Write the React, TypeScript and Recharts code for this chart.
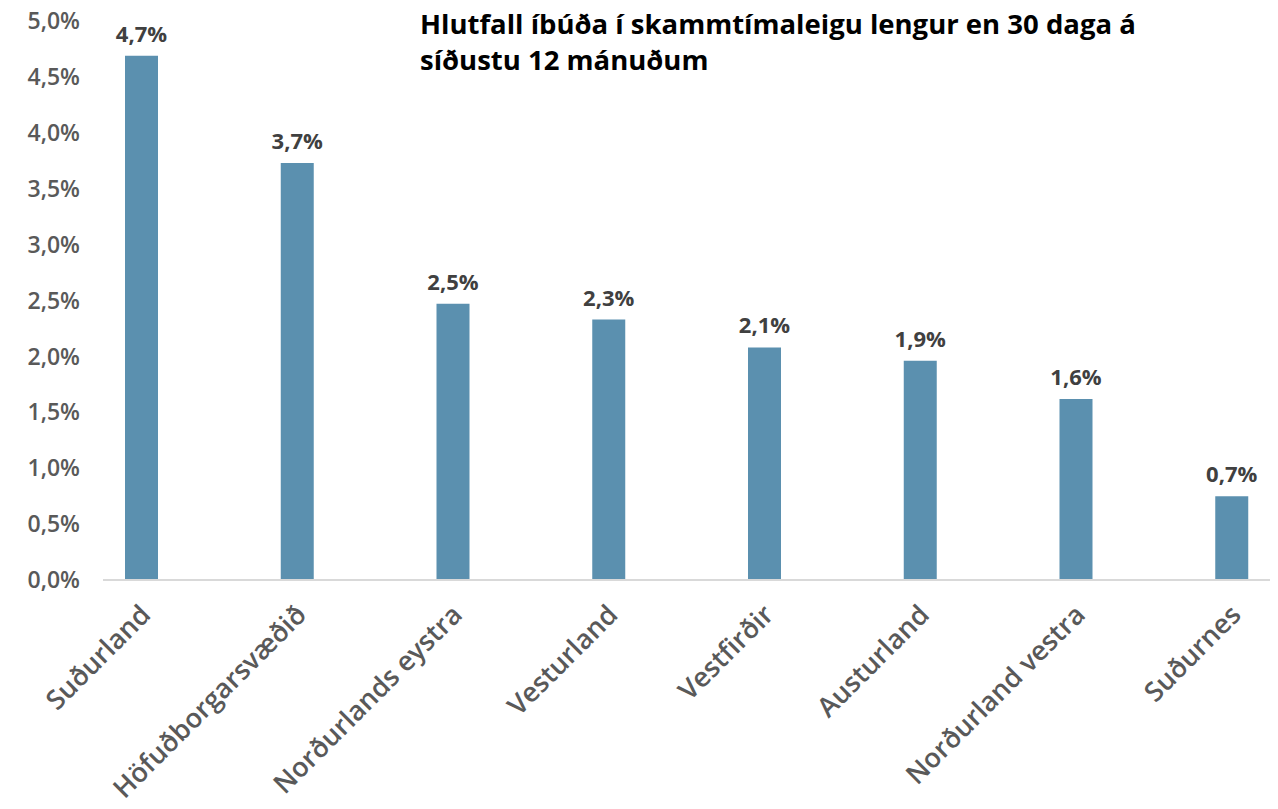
import React from "react";
import { BarChart, Bar, XAxis, YAxis, LabelList } from "recharts";

const categories = [
  "Suðurland",
  "Höfuðborgarsvæðið",
  "Norðurlands eystra",
  "Vesturland",
  "Vestfirðir",
  "Austurland",
  "Norðurland vestra",
  "Suðurnes",
];
const values = [4.69, 3.73, 2.47, 2.33, 2.08, 1.96, 1.62, 0.75];
const valueLabels = ["4,7%", "3,7%", "2,5%", "2,3%", "2,1%", "1,9%", "1,6%", "0,7%"];
const yTicks = [0, 0.5, 1, 1.5, 2, 2.5, 3, 3.5, 4, 4.5, 5];
const titleLines = [
  "Hlutfall íbúða í skammtímaleigu lengur en 30 daga á",
  "síðustu 12 mánuðum",
];

const data = categories.map((c, i) => ({ name: c, value: values[i], label: valueLabels[i] }));

const FONT = "'Open Sans', 'Noto Sans', sans-serif";

const fmtY = (v: number) => v.toFixed(1).replace(".", ",") + "%";

const XTick = (props: any) => {
  const { x, y, payload } = props;
  return (
    <g transform={`translate(${x + 4},${y + 22})`}>
      <text
        textAnchor="end"
        transform="rotate(-45)"
        fill="#595959"
        fontFamily={FONT}
        fontWeight={600}
        fontSize={27}
        dy={9}
      >
        {payload.value}
      </text>
    </g>
  );
};

export default function App() {
  return (
    <div style={{ position: "absolute", left: 0, top: 0, width: 1278, height: 809, background: "#fff" }}>
      <BarChart
        width={1278}
        height={809}
        data={data}
        margin={{ top: 21, right: 8, bottom: 0, left: 0 }}
        barSize={33}
      >
        <YAxis
          domain={[0, 5]}
          ticks={yTicks}
          tickFormatter={fmtY}
          width={103}
          axisLine={false}
          tickLine={false}
          tickSize={0}
          tickMargin={23}
          tick={{ fill: "#595959", fontFamily: FONT, fontWeight: 600, fontSize: 23 }}
          interval={0}
        />
        <XAxis
          dataKey="name"
          height={229}
          interval={0}
          tickLine={false}
          axisLine={{ stroke: "#D9D9D9", strokeWidth: 2 }}
          padding={{ left: -39, right: -40 }}
          tick={<XTick />}
        />
        <Bar dataKey="value" fill="#5B90AF" isAnimationActive={false}>
          <LabelList
            dataKey="label"
            position="top"
            offset={14}
            fill="#404040"
            fontFamily={FONT}
            fontWeight={700}
            fontSize={22}
          />
        </Bar>
        <text x={420} y={34} fontFamily={FONT} fontWeight={700} fontSize={27.5} fill="#000">
          {titleLines[0]}
        </text>
        <text x={420} y={70} fontFamily={FONT} fontWeight={700} fontSize={27.5} fill="#000">
          {titleLines[1]}
        </text>
      </BarChart>
    </div>
  );
}
